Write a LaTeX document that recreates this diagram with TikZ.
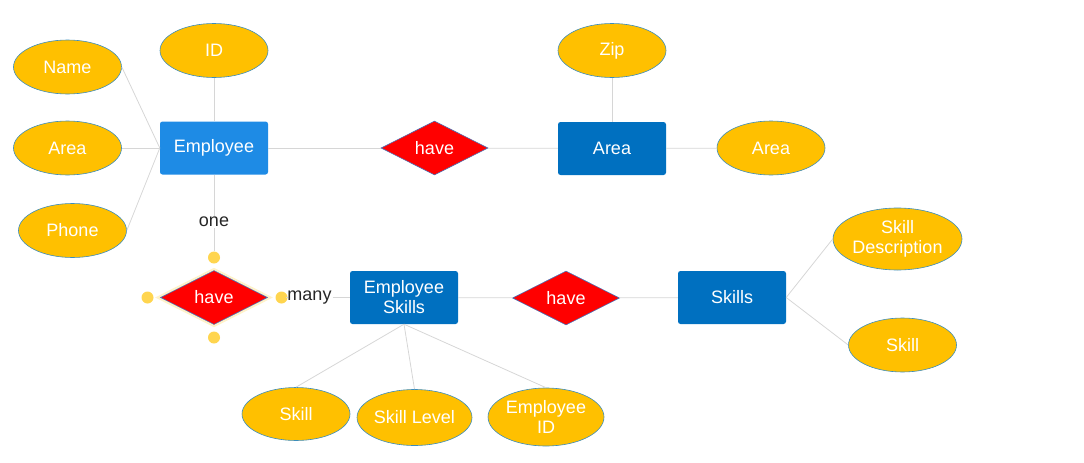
\documentclass[tikz,border=0pt]{standalone}
\usepackage{fontspec}
\setmainfont{Liberation Sans}
\usetikzlibrary{positioning,shapes.geometric}

\definecolor{empblue}{HTML}{1E8BE5}
\definecolor{entblue}{HTML}{0070C0}
\definecolor{attrfill}{HTML}{FFC000}
\definecolor{attrline}{HTML}{3C8DBC}
\definecolor{relline}{HTML}{4A6FB5}
\definecolor{linkgray}{HTML}{D6D6D6}
\definecolor{dotyellow}{HTML}{FFD54F}

\begin{document}
\begin{tikzpicture}[
    x=1pt, y=-1pt,
    every node/.style={font=\fontsize{18}{20}\selectfont},
    entity/.style={rectangle, rounded corners=2.5pt, fill=entblue, text=white, minimum width=108pt, minimum height=53pt, inner sep=0pt, align=center},
    attr/.style={ellipse, draw=attrline, line width=0.6pt, fill=attrfill, text=white, minimum width=108pt, minimum height=54pt, inner sep=0pt, align=center},
    rel/.style={diamond, draw=relline, line width=0.6pt, fill=red, text=white, minimum width=107pt, minimum height=54pt, inner sep=0pt},
    card/.style={text=black!85, inner sep=1pt},
    handle/.style={circle, fill=dotyellow, minimum size=12pt, inner sep=0pt},
    link/.style={draw=linkgray, line width=0.8pt}
  ]
    \useasboundingbox (0,0) rectangle (1084,463);

    % entities
    \node[entity, fill=empblue] (emp) at (214,148) {Employee};
    \node[entity] (area) at (612,148.5) {Area};
    \node[entity] (empsk) at (404,297.5) {Employee\\Skills};
    \node[entity] (skills) at (732,297.5) {Skills};

    % relations
    \node[rel] (have_top) at (434.5,148) {have};
    \node[rel, preaction={draw=dotyellow, opacity=0.3, line width=5pt}] (have_left) at (214,297.5) {have};
    \node[rel] (have_mid) at (566,298) {have};

    % attributes
    \node[attr] (a_name) at (67.5,67) {Name};
    \node[attr] (a_id) at (214,50.5) {ID};
    \node[attr] (a_area) at (67.5,148) {Area};
    \node[attr] (a_phone) at (72.5,230.5) {Phone};
    \node[attr] (a_zip) at (612,50.5) {Zip};
    \node[attr] (a_area2) at (771,148) {Area};
    \node[attr, minimum width=129pt, minimum height=62pt] (a_skdesc) at (897.5,239) {Skill\\Description};
    \node[attr] (a_skill2) at (902.5,345) {Skill};
    \node[attr, minimum height=53pt] (a_skill) at (296,414) {Skill};
    \node[attr, minimum width=115pt, minimum height=56pt] (a_sklevel) at (414.5,417.5) {Skill Level};
    \node[attr, minimum width=116pt, minimum height=58pt] (a_empid) at (546,417) {Employee\\ID};

    % cardinality labels and handles
    \node[card] (c_one) at (214,222) {one};
    \node[card] (c_many) at (309.5,297.5) {many};
    \node[handle] (h_top) at (214,257.5) {};
    \node[handle] (h_left) at (147.5,297.5) {};
    \node[handle] (h_right) at (281.5,297.5) {};
    \node[handle] (h_bot) at (214,337.5) {};

    % connectors
    \path[link] (a_name.east) -- (emp.west);
    \path[link] (a_area.east) -- (emp.west);
    \path[link] (a_phone.east) -- (emp.west);
    \path[link] (a_id) -- (emp);
    \path[link] (emp) -- (have_top);
    \path[link] (have_top) -- (area);
    \path[link] (area) -- (a_area2);
    \path[link] (a_zip) -- (area);
    \path[link] (emp) -- (c_one);
    \path[link] (c_one) -- (h_top);
    \path[link] (h_right) -- (c_many);
    \path[link] (c_many) -- (empsk);
    \path[link] (empsk) -- (have_mid);
    \path[link] (have_mid) -- (skills);
    \path[link] (skills.east) -- (a_skdesc.west);
    \path[link] (skills.east) -- (a_skill2.west);
    \path[link] (empsk.south) -- (a_skill.north);
    \path[link] (empsk.south) -- (a_sklevel.north);
    \path[link] (empsk.south) -- (a_empid.north);
  \end{tikzpicture}
\end{document}
